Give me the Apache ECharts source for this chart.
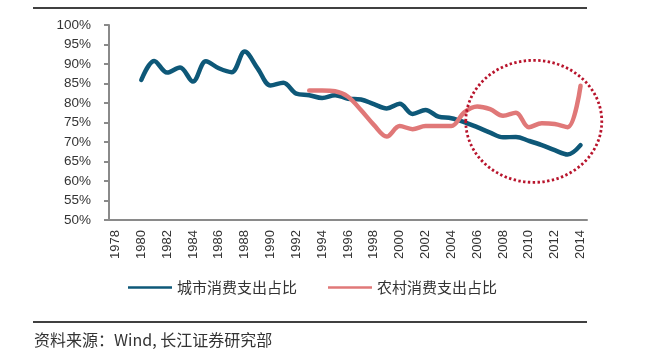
<!DOCTYPE html>
<html>
<head>
<meta charset="utf-8">
<script src="https://cdn.jsdelivr.net/npm/echarts@6/dist/echarts.min.js"></script>
<style>
html,body{margin:0;padding:0;background:#fff;}
#c{width:655px;height:364px;}
</style>
</head>
<body>
<div id="c"></div>
<script>
const years = [];
for (let y = 1978; y <= 2014; y++) years.push(String(y));

const urbanName = '城市消费支出占比';
const ruralName = '农村消费支出占比';

const urban = [null, null,
  85.9, 90.8, 87.8, 89.1, 85.5, 90.7, 88.9, 87.9, 93.2, 88.9,
  84.5, 85.2, 82.4, 82.0, 81.3, 82.0, 81.1, 80.9, 79.7, 78.6,
  79.8, 77.2, 78.2, 76.5, 76.1, 75.1, 73.8, 72.4, 71.2, 71.3,
  70.3, 69.2, 67.9, 66.8, 69.2];

const rural = [null, null, null, null, null, null, null, null, null, null,
  null, null, null, null, null,
  83.2, 83.2, 83.0, 81.6, 78.2, 74.4, 71.4, 74.1, 73.3, 74.1,
  74.1, 74.1, 77.6, 79.1, 78.4, 76.7, 77.5, 73.8, 74.8, 74.6,
  73.8, 84.4];

const yTicks = [50, 55, 60, 65, 70, 75, 80, 85, 90, 95, 100];
const sourceText = '资料来源：Wind, 长江证券研究部';

// annotation ellipse centre in data space (fractional category index, value)
const noteCenter = [32.38, 75.3];

const chart = echarts.init(document.getElementById('c'));
const option = {
  backgroundColor: '#ffffff',
  animation: false,
  grid: {left: 109, right: 68, top: 25, bottom: 144, containLabel: false},
  legend: {
    left: 128, top: 280, padding: 0,
    itemWidth: 44, itemHeight: 2.5, itemGap: 31,
    icon: 'rect',
    textStyle: {fontSize: 15, color: '#333', fontFamily: '"Noto Sans CJK SC", sans-serif'},
    data: [urbanName, ruralName]
  },
  xAxis: {
    type: 'category',
    data: years,
    boundaryGap: true,
    axisLine: {lineStyle: {color: '#8a8a8a', width: 2}},
    axisTick: {interval: 1, length: 5, lineStyle: {color: '#8a8a8a', width: 2}},
    axisLabel: {interval: 1, rotate: 90, fontSize: 13, color: '#333', fontFamily: '"Liberation Sans", Arial, sans-serif', margin: 10},
    splitLine: {show: false}
  },
  yAxis: {
    type: 'value',
    min: yTicks[0], max: yTicks[yTicks.length - 1], interval: 5,
    axisLine: {show: true, lineStyle: {color: '#8a8a8a', width: 2}},
    axisTick: {show: true, length: 5, lineStyle: {color: '#8a8a8a', width: 2}},
    axisLabel: {fontSize: 13.5, color: '#333', fontFamily: '"Liberation Sans", Arial, sans-serif', margin: 18,
      formatter: v => v + '%'},
    splitLine: {show: false}
  },
  series: [
    {name: urbanName, type: 'line', data: urban, smooth: 0.35, showSymbol: false, symbol: 'none',
      itemStyle: {color: '#0e5878'}, lineStyle: {color: '#0e5878', width: 4.5, cap: 'round', join: 'round'}},
    {name: ruralName, type: 'line', data: rural, smooth: 0.35, showSymbol: false, symbol: 'none',
      itemStyle: {color: '#e07878'}, lineStyle: {color: '#e07878', width: 4.5, cap: 'round', join: 'round'}}
  ]
};
chart.setOption(option);

const i0 = Math.floor(noteCenter[0]);
const f = noteCenter[0] - i0;
const p0 = chart.convertToPixel({xAxisIndex: 0, yAxisIndex: 0}, [i0, noteCenter[1]]);
const p1 = chart.convertToPixel({xAxisIndex: 0, yAxisIndex: 0}, [i0 + 1, noteCenter[1]]);
const cx = p0[0] + (p1[0] - p0[0]) * f;
const cy = p0[1];
chart.setOption({
  graphic: [
    {type: 'line', shape: {x1: 33, y1: 8, x2: 587, y2: 8}, style: {stroke: '#000', lineWidth: 1.5}},
    {type: 'line', shape: {x1: 33, y1: 322, x2: 587, y2: 322}, style: {stroke: '#000', lineWidth: 1.5}},
    {type: 'text', left: 34, top: 332, style: {text: sourceText, fill: '#333', font: '16px "Noto Sans CJK SC", sans-serif'}},
    {type: 'ellipse', shape: {cx: cx, cy: cy, rx: 68, ry: 61}, z: 100,
      style: {fill: null, stroke: '#b8142c', lineWidth: 2.8, lineDash: [2.4, 2.4], lineCap: 'butt'}}
  ]
});
</script>
</body>
</html>
